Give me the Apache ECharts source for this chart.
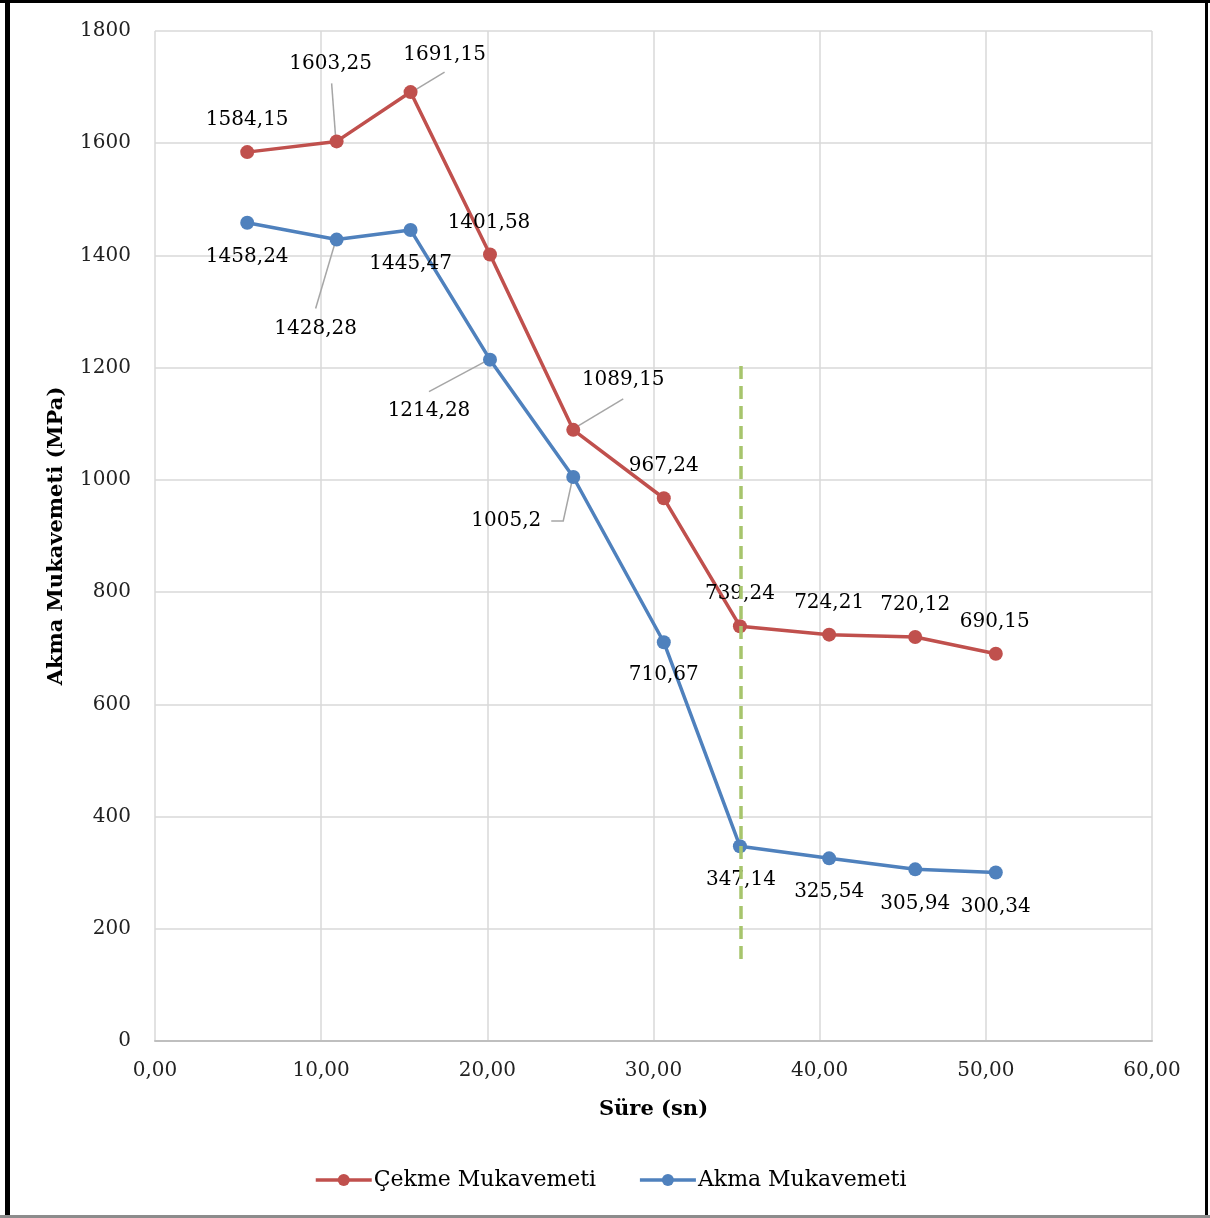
<!DOCTYPE html>
<html>
<head>
<meta charset="utf-8">
<script src="https://cdn.jsdelivr.net/npm/echarts@6/dist/echarts.min.js"></script>
<style>
  html, body { margin: 0; padding: 0; background: #fff; }
  #chart { width: 1210px; height: 1218px; }
</style>
</head>
<body>
<div id="chart"></div>
<script>
// Time (s) for each test, shared by both series
const sure = [5.55, 10.93, 15.38, 20.16, 25.17, 30.62, 35.2, 40.57, 45.75, 50.6];
// Tensile strength (MPa)
const cekme = [1584.15, 1603.25, 1691.15, 1401.58, 1089.15, 967.24, 739.24, 724.21, 720.12, 690.15];
// Yield strength (MPa)
const akma = [1458.24, 1428.28, 1445.47, 1214.28, 1005.2, 710.67, 347.14, 325.54, 305.94, 300.34];
// Reference line marking the transition time
const esikSure = 35.26;
const esikAralik = [1203, 139];

const xTicks = { min: 0, max: 60, interval: 10 };
const yTicks = { min: 0, max: 1800, interval: 200 };

const FONT = '"DejaVu Serif", serif';
const RED = '#C0504D';
const BLUE = '#4F81BD';

// Label placement: offset of label centre from its marker (px)
const cekmeLabelOffset = [[0,-32],[-6,-78],[34,-37],[-1,-32],[50,-50],[0,-32],[0,-32],[0,-32],[0,-32],[-1,-32]];
const akmaLabelOffset  = [[0,34],[-21,89],[0,34],[-61,51],[-67,44],[0,33],[1,34],[0,33],[0,34],[0,34]];
// Leader lines for displaced labels, as pixel points relative to the marker
const cekmeLeaders = { 1: [[-5,-58],[-1,-4]], 2: [[34,-20],[1,0]], 4: [[50,-31],[0,-1]] };
const akmaLeaders  = { 1: [[-21,69],[0,-2]], 3: [[-61,32],[-5,2]], 4: [[-22,44],[-10,44],[-1,3]] };

const fmt = v => String(v).replace('.', ',');
const fmt2 = v => v.toFixed(2).replace('.', ',');

function buildData(xs, ys, offsets) {
  return ys.map((y, i) => ({
    value: [xs[i], y],
    label: { offset: offsets[i] }
  }));
}

const chart = echarts.init(document.getElementById('chart'));

const option = {
  animation: false,
  backgroundColor: '#fff',
  textStyle: { fontFamily: FONT },
  grid: { left: 155, top: 31, right: 58, bottom: 177, containLabel: false },
  legend: {
    left: 314,
    top: 1169,
    padding: 0,
    itemWidth: 56,
    itemHeight: 15,
    itemGap: 42,
    lineStyle: { width: 3.5 },
    textStyle: { fontFamily: FONT, fontSize: 22, color: '#000', padding: [0, 0, 0, -3] },
    data: ['Çekme Mukavemeti', 'Akma Mukavemeti']
  },
  xAxis: {
    type: 'value',
    min: xTicks.min, max: xTicks.max, interval: xTicks.interval,
    name: 'Süre (sn)',
    nameLocation: 'middle',
    nameGap: 58,
    nameTextStyle: { fontFamily: FONT, fontSize: 21, fontWeight: 'bold', color: '#000' },
    axisLine: { show: true, lineStyle: { color: '#bfbfbf', width: 2 } },
    axisTick: { show: false },
    axisLabel: { margin: 20, fontFamily: FONT, fontSize: 20, color: '#222', formatter: fmt2 },
    splitLine: { show: true, lineStyle: { color: '#d9d9d9', width: 1.5 } }
  },
  yAxis: {
    type: 'value',
    min: yTicks.min, max: yTicks.max, interval: yTicks.interval,
    name: 'Akma Mukavemeti (MPa)',
    nameLocation: 'middle',
    nameGap: 88,
    nameTextStyle: { fontFamily: FONT, fontSize: 21, fontWeight: 'bold', color: '#000' },
    axisLine: { show: false },
    axisTick: { show: false },
    axisLabel: { margin: 24, fontFamily: FONT, fontSize: 20, color: '#222', formatter: v => String(v) },
    splitLine: { show: true, lineStyle: { color: '#d9d9d9', width: 1.5 } }
  },
  series: [
    {
      name: 'Çekme Mukavemeti',
      type: 'line',
      data: buildData(sure, cekme, cekmeLabelOffset),
      symbol: 'circle',
      symbolSize: 14,
      lineStyle: { color: RED, width: 3.5 },
      itemStyle: { color: RED },
      label: {
        show: true, position: 'inside',
        fontFamily: FONT, fontSize: 20, color: '#000',
        formatter: p => fmt(p.value[1])
      },
      z: 3
    },
    {
      name: 'Akma Mukavemeti',
      type: 'line',
      data: buildData(sure, akma, akmaLabelOffset),
      symbol: 'circle',
      symbolSize: 14,
      lineStyle: { color: BLUE, width: 3.5 },
      itemStyle: { color: BLUE },
      label: {
        show: true, position: 'inside',
        fontFamily: FONT, fontSize: 20, color: '#000',
        formatter: p => fmt(p.value[1])
      },
      markLine: {
        silent: true,
        symbol: 'none',
        label: { show: false },
        lineStyle: { color: '#a7c56c', width: 3.5, type: [13, 7] },
        data: [[{ coord: [esikSure, esikAralik[0]] }, { coord: [esikSure, esikAralik[1]] }]]
      },
      z: 3
    }
  ]
};

chart.setOption(option);

// Leader lines and outer frame
function leaderGraphics(seriesIndex, xs, ys, leaders) {
  const out = [];
  Object.keys(leaders).forEach(k => {
    const i = +k;
    const p = chart.convertToPixel({ seriesIndex }, [xs[i], ys[i]]);
    out.push({
      type: 'polyline',
      silent: true,
      z: 2,
      shape: { points: leaders[k].map(d => [p[0] + d[0], p[1] + d[1]]) },
      style: { stroke: '#a6a6a6', lineWidth: 1.5, fill: null }
    });
  });
  return out;
}

const frame = [
  { type: 'rect', silent: true, shape: { x: 5, y: 0, width: 5, height: 1218 }, style: { fill: '#000' } },
  { type: 'rect', silent: true, shape: { x: 0, y: 0, width: 1210, height: 3 }, style: { fill: '#000' } },
  { type: 'rect', silent: true, shape: { x: 1205, y: 0, width: 3, height: 1218 }, style: { fill: '#000' } },
  { type: 'rect', silent: true, shape: { x: 0, y: 1215, width: 1210, height: 3 }, style: { fill: '#8c8c8c' } }
];

chart.setOption({
  graphic: frame
    .concat(leaderGraphics(0, sure, cekme, cekmeLeaders))
    .concat(leaderGraphics(1, sure, akma, akmaLeaders))
});
</script>
</body>
</html>
